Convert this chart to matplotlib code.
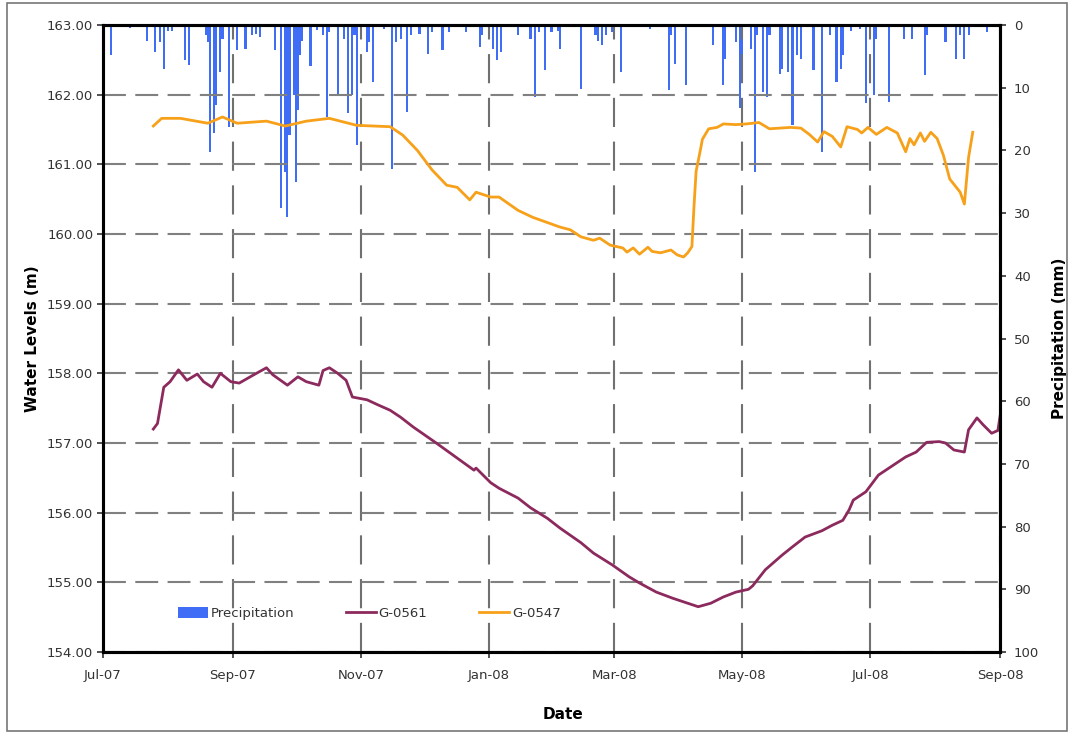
import matplotlib
matplotlib.use("Agg")
import matplotlib.pyplot as plt
import matplotlib.dates as mdates
from matplotlib.patches import Rectangle, Patch
from matplotlib.lines import Line2D
import pandas as pd

# ---------------- data ----------------
g0547_dates = ["2007-07-25", "2007-07-29", "2007-08-07", "2007-08-20", "2007-08-27", "2007-09-03",
               "2007-09-17", "2007-09-26", "2007-10-06", "2007-10-17", "2007-10-30", "2007-11-15",
               "2007-11-21", "2007-11-28", "2007-12-05", "2007-12-12", "2007-12-17", "2007-12-23",
               "2007-12-26", "2008-01-02", "2008-01-06", "2008-01-15", "2008-01-22", "2008-02-04",
               "2008-02-09", "2008-02-14", "2008-02-20", "2008-02-23", "2008-02-28", "2008-03-05",
               "2008-03-07", "2008-03-10", "2008-03-13", "2008-03-17", "2008-03-19", "2008-03-23",
               "2008-03-28", "2008-03-31", "2008-04-03", "2008-04-05", "2008-04-07", "2008-04-08",
               "2008-04-09", "2008-04-11", "2008-04-12", "2008-04-15", "2008-04-19", "2008-04-22",
               "2008-04-28", "2008-05-03", "2008-05-09", "2008-05-14", "2008-05-24", "2008-05-29",
               "2008-06-02", "2008-06-06", "2008-06-09", "2008-06-13", "2008-06-17", "2008-06-20",
               "2008-06-25", "2008-06-27", "2008-06-30", "2008-07-04", "2008-07-09", "2008-07-14",
               "2008-07-18", "2008-07-20", "2008-07-22", "2008-07-25", "2008-07-27", "2008-07-30",
               "2008-08-02", "2008-08-05", "2008-08-08", "2008-08-13", "2008-08-15", "2008-08-17",
               "2008-08-19"]
g0547_levels = [161.55, 161.66, 161.66, 161.59, 161.68, 161.59,
                161.62, 161.55, 161.62, 161.66, 161.56, 161.54,
                161.42, 161.20, 160.92, 160.70, 160.67, 160.49,
                160.60, 160.53, 160.53, 160.34, 160.24, 160.10,
                160.06, 159.96, 159.91, 159.94, 159.84, 159.80,
                159.74, 159.80, 159.71, 159.81, 159.75, 159.73,
                159.77, 159.70, 159.67, 159.73, 159.82, 160.40,
                160.90, 161.20, 161.36, 161.51, 161.53, 161.58,
                161.57, 161.58, 161.60, 161.51, 161.53, 161.52,
                161.43, 161.32, 161.47, 161.40, 161.25, 161.54,
                161.50, 161.45, 161.53, 161.43, 161.53, 161.45,
                161.18, 161.37, 161.28, 161.45, 161.33, 161.46,
                161.37, 161.13, 160.79, 160.60, 160.43, 161.10,
                161.46]

g0561_dates = ["2007-07-25", "2007-07-27", "2007-07-30", "2007-08-02", "2007-08-06", "2007-08-10",
               "2007-08-15", "2007-08-18", "2007-08-22", "2007-08-26", "2007-08-31", "2007-09-04",
               "2007-09-11", "2007-09-17", "2007-09-20", "2007-09-27", "2007-10-02", "2007-10-06",
               "2007-10-12", "2007-10-14", "2007-10-17", "2007-10-21", "2007-10-25", "2007-10-28",
               "2007-11-04", "2007-11-09", "2007-11-15", "2007-11-20", "2007-11-26", "2007-12-07",
               "2007-12-25", "2007-12-26", "2008-01-02", "2008-01-06", "2008-01-15", "2008-01-21",
               "2008-01-29", "2008-02-04", "2008-02-14", "2008-02-20", "2008-02-29", "2008-03-08",
               "2008-03-13", "2008-03-21", "2008-03-29", "2008-04-05", "2008-04-10", "2008-04-16",
               "2008-04-22", "2008-04-28", "2008-05-04", "2008-05-06", "2008-05-12", "2008-05-20",
               "2008-05-25", "2008-05-31", "2008-06-08", "2008-06-13", "2008-06-18", "2008-06-21",
               "2008-06-23", "2008-06-29", "2008-07-05", "2008-07-11", "2008-07-18", "2008-07-23",
               "2008-07-28", "2008-08-03", "2008-08-06", "2008-08-10", "2008-08-15", "2008-08-17",
               "2008-08-21", "2008-08-24", "2008-08-28", "2008-08-31", "2008-09-01"]
g0561_levels = [157.20, 157.28, 157.80, 157.88, 158.05, 157.90,
                157.99, 157.88, 157.80, 158.00, 157.88, 157.86,
                157.98, 158.08, 157.98, 157.83, 157.95, 157.88,
                157.83, 158.04, 158.08, 158.00, 157.90, 157.66,
                157.62, 157.55, 157.47, 157.37, 157.23, 157.00,
                156.61, 156.64, 156.43, 156.35, 156.21, 156.07,
                155.92, 155.78, 155.57, 155.42, 155.25, 155.08,
                154.99, 154.86, 154.77, 154.70, 154.65, 154.70,
                154.79, 154.86, 154.90, 154.95, 155.18, 155.39,
                155.51, 155.65, 155.74, 155.82, 155.89, 156.04,
                156.18, 156.30, 156.54, 156.66, 156.80, 156.87,
                157.01, 157.02, 157.00, 156.90, 156.87, 157.19,
                157.36, 157.26, 157.14, 157.18, 157.38]

precip_dates = ["2007-07-05", "2007-07-14", "2007-07-22", "2007-07-26", "2007-07-28", "2007-07-30",
                "2007-08-01", "2007-08-03", "2007-08-09", "2007-08-11", "2007-08-19", "2007-08-20",
                "2007-08-21", "2007-08-23", "2007-08-24", "2007-08-26", "2007-08-27", "2007-08-30",
                "2007-09-03", "2007-09-07", "2007-09-10", "2007-09-12", "2007-09-14", "2007-09-21",
                "2007-09-24", "2007-09-26", "2007-09-27", "2007-09-28", "2007-09-30", "2007-10-01",
                "2007-10-02", "2007-10-03", "2007-10-04", "2007-10-08", "2007-10-11", "2007-10-14",
                "2007-10-16", "2007-10-17", "2007-10-21", "2007-10-24", "2007-10-26", "2007-10-28",
                "2007-10-29", "2007-10-30", "2007-11-04", "2007-11-05", "2007-11-07", "2007-11-12",
                "2007-11-16", "2007-11-18", "2007-11-20", "2007-11-23", "2007-11-25", "2007-11-29",
                "2007-12-03", "2007-12-05", "2007-12-10", "2007-12-13", "2007-12-21", "2007-12-28",
                "2007-12-29", "2008-01-03", "2008-01-05", "2008-01-07", "2008-01-15", "2008-01-21",
                "2008-01-23", "2008-01-25", "2008-01-28", "2008-01-31", "2008-02-03", "2008-02-04",
                "2008-02-14", "2008-02-21", "2008-02-22", "2008-02-24", "2008-02-26", "2008-02-29",
                "2008-03-04", "2008-03-18", "2008-03-27", "2008-03-28", "2008-03-30", "2008-04-04",
                "2008-04-17", "2008-04-22", "2008-04-23", "2008-04-28", "2008-04-30", "2008-05-01",
                "2008-05-05", "2008-05-07", "2008-05-08", "2008-05-11", "2008-05-13", "2008-05-14",
                "2008-05-19", "2008-05-20", "2008-05-23", "2008-05-25", "2008-05-27", "2008-05-29",
                "2008-06-04", "2008-06-08", "2008-06-12", "2008-06-15", "2008-06-17", "2008-06-18",
                "2008-06-22", "2008-06-26", "2008-06-29", "2008-07-01", "2008-07-03", "2008-07-04",
                "2008-07-10", "2008-07-17", "2008-07-21", "2008-07-27", "2008-07-28", "2008-08-06",
                "2008-08-11", "2008-08-13", "2008-08-15", "2008-08-17", "2008-08-26"]
precip_mm = [4.8, 0.5, 2.6, 4.3, 2.7, 7.0,
             1.0, 0.9, 5.6, 6.3, 1.6, 2.7,
             20.3, 17.3, 12.8, 7.5, 2.2, 16.3,
             4.0, 3.8, 1.6, 1.4, 1.9, 4.0,
             29.2, 23.5, 30.6, 17.6, 11.2, 25.0,
             13.6, 4.8, 2.5, 6.5, 0.8, 1.6,
             14.6, 1.1, 11.2, 2.2, 14.1, 11.2,
             1.6, 19.2, 4.3, 2.7, 9.1, 0.6,
             22.9, 2.7, 2.2, 13.9, 1.6, 1.4,
             4.6, 1.1, 4.0, 1.1, 1.1, 3.5,
             1.6, 3.8, 5.6, 4.3, 1.6, 2.2,
             11.5, 1.1, 7.2, 1.1, 0.9, 3.8,
             10.2, 1.6, 2.5, 3.2, 1.6, 1.1,
             7.5, 0.6, 10.4, 1.6, 6.2, 9.6,
             3.2, 9.6, 5.4, 2.7, 13.3, 5.4,
             3.8, 23.4, 1.6, 10.7, 11.5, 1.6,
             7.8, 7.0, 7.5, 16.0, 4.8, 5.4,
             7.2, 20.3, 1.6, 9.1, 7.0, 4.8,
             0.9, 0.6, 12.5, 1.1, 11.2, 2.2,
             12.3, 2.2, 2.2, 8.0, 1.6, 2.7,
             5.4, 1.6, 5.4, 1.6, 1.1]

x_start, x_end = "2007-07-01", "2008-09-01"
level_ticks = [154, 155, 156, 157, 158, 159, 160, 161, 162, 163]
precip_ticks = [0, 10, 20, 30, 40, 50, 60, 70, 80, 90, 100]

# ---------------- styling ----------------
C_PRECIP = "#3f6df5"
C_561 = "#8c2a5e"
C_547 = "#f7a11a"
TICK_COL = "#333333"

plt.rcParams['font.family'] = ['DejaVu Sans']

fig = plt.figure(figsize=(10.7, 7.35), dpi=100)
fig.patches.append(Rectangle((7 / 1070, 4 / 735), 1060 / 1070, 728 / 735,
                             transform=fig.transFigure, fill=False,
                             edgecolor="#777777", linewidth=1.2))

ax = fig.add_axes([103 / 1070, 1 - 652 / 735, 897 / 1070, 627 / 735])
ax2 = ax.twinx()
ax.set_zorder(ax2.get_zorder() + 1)
ax.patch.set_visible(False)
ax2.patch.set_facecolor("white")

# precipitation bars
pdates = pd.to_datetime(precip_dates)
ax2.bar(pdates, precip_mm, width=1.0, bottom=0, color=C_PRECIP, linewidth=0, align="center")
ax2.set_ylim(100, 0)
ax2.set_yticks(precip_ticks)

# water levels
ax.plot(pd.to_datetime(g0561_dates), g0561_levels, color=C_561, linewidth=2.0, solid_joinstyle="round")
ax.plot(pd.to_datetime(g0547_dates), g0547_levels, color=C_547, linewidth=2.0, solid_joinstyle="round")
ax.set_ylim(154, 163)
ax.set_yticks(level_ticks)
ax.set_yticklabels([f"{v:.2f}" for v in level_ticks])

ax.set_xlim(pd.Timestamp(x_start), pd.Timestamp(x_end))
ax.xaxis.set_major_locator(mdates.MonthLocator(interval=2))
ax.xaxis.set_major_formatter(mdates.DateFormatter("%b-%y"))

# grid
ax.grid(axis="y", color="#808080", linewidth=1.5, linestyle=(0, (11, 4.5)))
ax.grid(axis="x", color="#707070", linewidth=1.5, linestyle=(0, (14, 7)))

for a in (ax, ax2):
    for s in a.spines.values():
        s.set_linewidth(2.2)
        s.set_color("black")
    a.tick_params(labelsize=9.5, colors=TICK_COL, length=4, width=1.2, direction="out", pad=3)
ax2.tick_params(axis="y", pad=6)
ax.tick_params(axis="x", pad=8)

ax.set_ylabel("Water Levels (m)", fontsize=11, fontweight="bold")
ax2.set_ylabel("Precipitation (mm)", fontsize=11, fontweight="bold")
ax.set_xlabel("Date", fontsize=11, fontweight="bold")
ax.yaxis.set_label_coords((40 - 103) / 897, 0.5)
ax2.yaxis.set_label_coords((1052 - 103) / 897, 0.5)
ax.xaxis.set_label_coords((563 - 103) / 897, (652 - 707) / 627)

handles = [Patch(facecolor=C_PRECIP, edgecolor="none"),
           Line2D([0], [0], color=C_561, linewidth=2),
           Line2D([0], [0], color=C_547, linewidth=2)]
leg = ax.legend(handles, ["Precipitation", "G-0561", "G-0547"], ncol=3,
                loc="center left", bbox_to_anchor=(0.07, 0.062), frameon=False,
                fontsize=9.5, handlelength=2.3, handletextpad=0.2, columnspacing=3.9,
                handleheight=0.9)
for t in leg.get_texts():
    t.set_color(TICK_COL)

fig.savefig("out.png", dpi=100)
